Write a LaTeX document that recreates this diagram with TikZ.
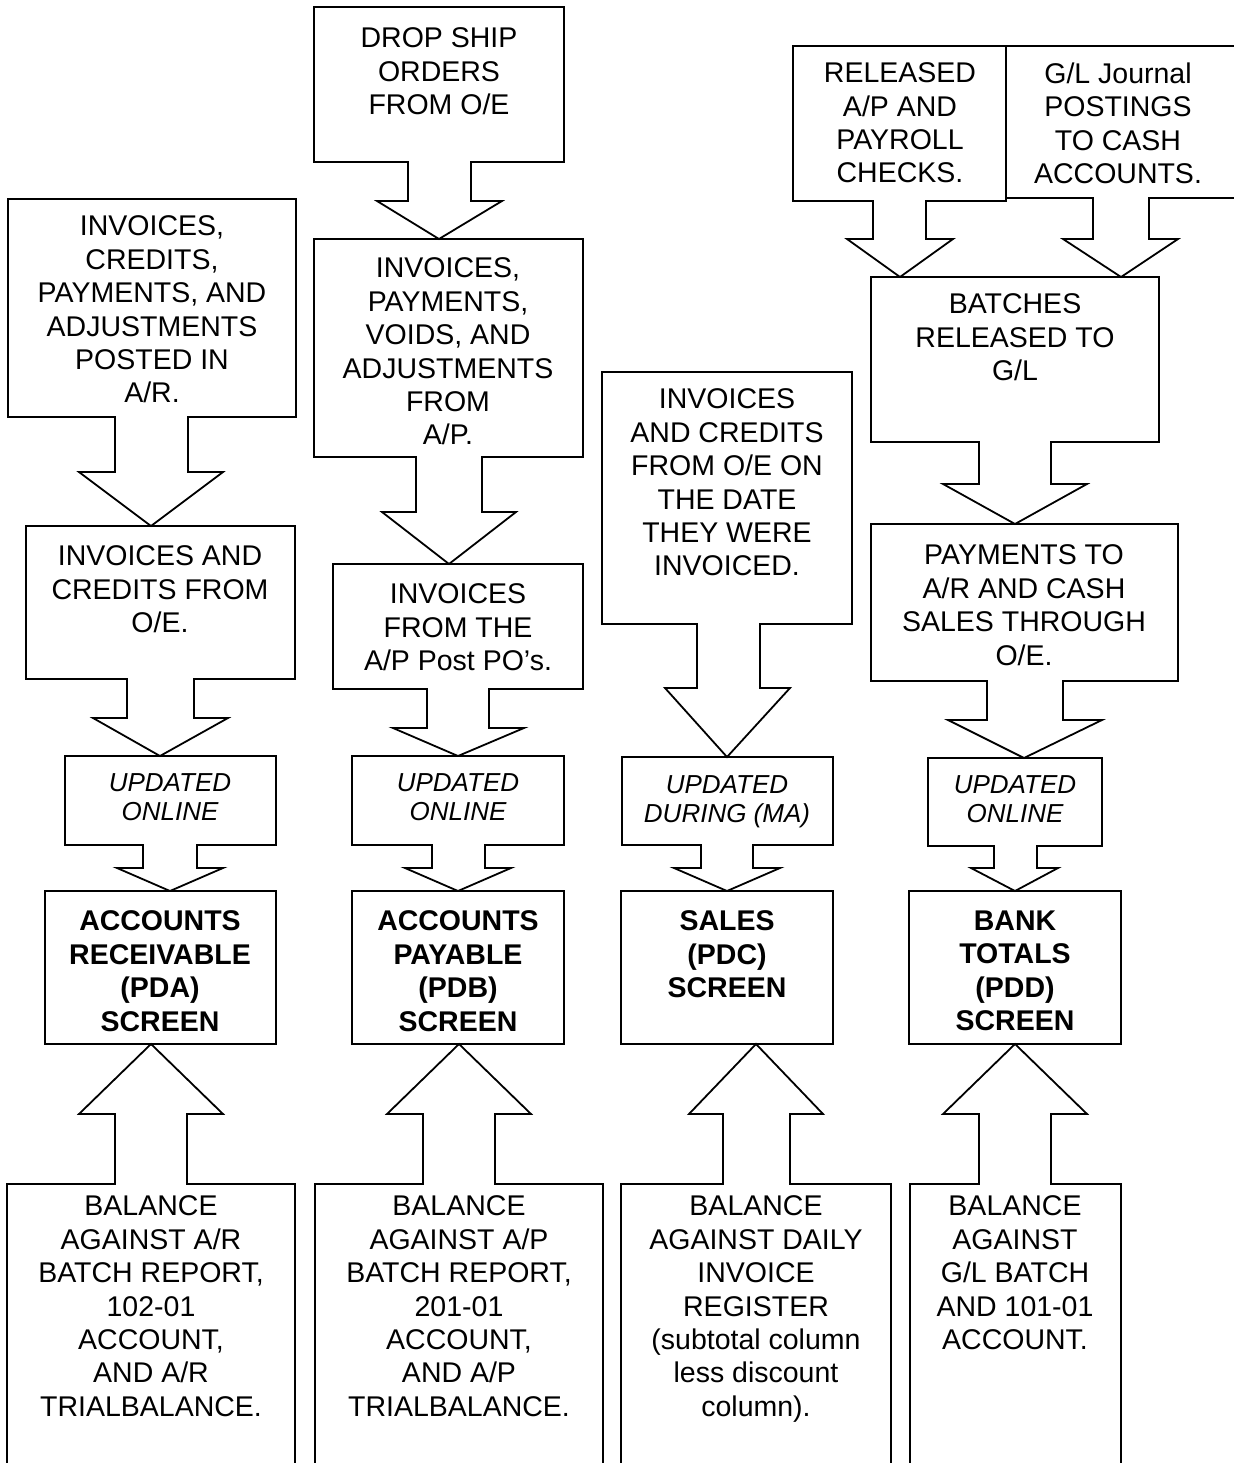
\documentclass[tikz,border=0pt]{standalone}
\usepackage{fontspec}
\setmainfont{Liberation Sans}

\begin{document}
\begin{tikzpicture}[x=1pt,y=-1pt,line width=1.8pt,
  txt/.style={inner sep=0pt,anchor=north,align=center,font=\fontsize{28.5}{33.4}\selectfont},
  upd/.style={txt,font=\fontsize{26}{29}\selectfont\itshape},
  scr/.style={txt,font=\fontsize{28.5}{33.4}\selectfont\bfseries}]
\useasboundingbox (0,0) rectangle (1233,1463);
\draw (8,199) -- (296,199) -- (296,417) -- (188,417) -- (188,472) -- (223,472) -- (151,526) -- (79,472) -- (115,472) -- (115,417) -- (8,417) -- cycle;
\draw (26,526) -- (295,526) -- (295,679) -- (194,679) -- (194,718) -- (228,718) -- (160,756) -- (93,718) -- (127,718) -- (127,679) -- (26,679) -- cycle;
\draw (65,756) -- (276,756) -- (276,845) -- (197,845) -- (197,868) -- (223,868) -- (170,891) -- (117,868) -- (143,868) -- (143,845) -- (65,845) -- cycle;
\draw (45,891) rectangle (276,1044);
\draw (7,1470) -- (7,1184) -- (115,1184) -- (115,1114) -- (79,1114) -- (151,1044) -- (223,1114) -- (187,1114) -- (187,1184) -- (295,1184) -- (295,1470);
\node[txt] (arpost) at (152,215) {INVOICES,\\CREDITS,\\PAYMENTS, AND\\ADJUSTMENTS\\POSTED IN\\A/R.};
\node[txt] (aroe) at (160,545) {INVOICES AND\\CREDITS FROM\\O/E.};
\node[upd] (arupd) at (170,773) {UPDATED\\ONLINE};
\node[scr] (arscr) at (160,910) {ACCOUNTS\\RECEIVABLE\\(PDA)\\SCREEN};
\node[txt] (arbal) at (151,1195) {BALANCE\\AGAINST A/R\\BATCH REPORT,\\102-01\\ACCOUNT,\\AND A/R\\TRIALBALANCE.};
\draw (314,7) -- (564,7) -- (564,162) -- (471,162) -- (471,201) -- (502,201) -- (439,239) -- (377,201) -- (408,201) -- (408,162) -- (314,162) -- cycle;
\draw (314,239) -- (583,239) -- (583,457) -- (482,457) -- (482,512) -- (516,512) -- (449,564) -- (382,512) -- (416,512) -- (416,457) -- (314,457) -- cycle;
\draw (333,564) -- (583,564) -- (583,689) -- (489,689) -- (489,728) -- (524,728) -- (458,756) -- (393,728) -- (427,728) -- (427,689) -- (333,689) -- cycle;
\draw (352,756) -- (564,756) -- (564,845) -- (485,845) -- (485,868) -- (511,868) -- (458,891) -- (405,868) -- (432,868) -- (432,845) -- (352,845) -- cycle;
\draw (352,891) rectangle (564,1044);
\draw (315,1470) -- (315,1184) -- (423,1184) -- (423,1114) -- (387,1114) -- (459,1044) -- (531,1114) -- (495,1114) -- (495,1184) -- (603,1184) -- (603,1470);
\node[txt] (apdrop) at (439,27) {DROP SHIP\\ORDERS\\FROM O/E};
\node[txt] (appost) at (448,257) {INVOICES,\\PAYMENTS,\\VOIDS, AND\\ADJUSTMENTS\\FROM\\A/P.};
\node[txt] (appo) at (458,583) {INVOICES\\FROM THE\\A/P Post PO’s.};
\node[upd] (apupd) at (458,773) {UPDATED\\ONLINE};
\node[scr] (apscr) at (458,910) {ACCOUNTS\\PAYABLE\\(PDB)\\SCREEN};
\node[txt] (apbal) at (459,1195) {BALANCE\\AGAINST A/P\\BATCH REPORT,\\201-01\\ACCOUNT,\\AND A/P\\TRIALBALANCE.};
\draw (602,372) -- (852,372) -- (852,624) -- (760,624) -- (760,688) -- (790,688) -- (727,757) -- (665,688) -- (697,688) -- (697,624) -- (602,624) -- cycle;
\draw (622,757) -- (833,757) -- (833,845) -- (753,845) -- (753,868) -- (780,868) -- (727,891) -- (674,868) -- (701,868) -- (701,845) -- (622,845) -- cycle;
\draw (621,891) rectangle (833,1044);
\draw (621,1470) -- (621,1184) -- (723,1184) -- (723,1114) -- (689,1114) -- (756,1044) -- (823,1114) -- (790,1114) -- (790,1184) -- (891,1184) -- (891,1470);
\node[txt] (soe) at (727,388) {INVOICES\\AND CREDITS\\FROM O/E ON\\THE DATE\\THEY WERE\\INVOICED.};
\node[upd] (supd) at (727,775) {UPDATED\\DURING (MA)};
\node[scr] (sscr) at (727,910) {SALES\\(PDC)\\SCREEN};
\node[txt] (sbal) at (756,1195) {BALANCE\\AGAINST DAILY\\INVOICE\\REGISTER\\(subtotal column\\less discount\\column).};
\draw (793,46) -- (1006,46) -- (1006,201) -- (926,201) -- (926,239) -- (953,239) -- (900,277) -- (847,239) -- (873,239) -- (873,201) -- (793,201) -- cycle;
\draw (1240,46) -- (1006,46) -- (1006,198) -- (1093,198) -- (1093,239) -- (1063,239) -- (1121,277) -- (1178,239) -- (1149,239) -- (1149,198) -- (1240,198);
\draw (871,277) -- (1159,277) -- (1159,442) -- (1051,442) -- (1051,484) -- (1087,484) -- (1015,524) -- (943,484) -- (979,484) -- (979,442) -- (871,442) -- cycle;
\draw (871,524) -- (1178,524) -- (1178,681) -- (1063,681) -- (1063,720) -- (1102,720) -- (1024,758) -- (948,720) -- (987,720) -- (987,681) -- (871,681) -- cycle;
\draw (928,758) -- (1102,758) -- (1102,846) -- (1037,846) -- (1037,868) -- (1058,868) -- (1015,891) -- (971,868) -- (994,868) -- (994,846) -- (928,846) -- cycle;
\draw (909,891) rectangle (1121,1044);
\draw (910,1470) -- (910,1184) -- (979,1184) -- (979,1114) -- (943,1114) -- (1015,1044) -- (1087,1114) -- (1051,1114) -- (1051,1184) -- (1121,1184) -- (1121,1470);
\node[txt] (bkchk) at (900,62) {RELEASED\\A/P AND\\PAYROLL\\CHECKS.};
\node[txt] (bkgl) at (1118,62) {G/L Journal\\POSTINGS\\TO CASH\\ACCOUNTS.};
\node[txt] (bkbatch) at (1015,293) {BATCHES\\RELEASED TO\\G/L};
\node[txt] (bkpay) at (1024,544) {PAYMENTS TO\\A/R AND CASH\\SALES THROUGH\\O/E.};
\node[upd] (bkupd) at (1015,775) {UPDATED\\ONLINE};
\node[scr] (bkscr) at (1015,910) {BANK\\TOTALS\\(PDD)\\SCREEN};
\node[txt] (bkbal) at (1015,1195) {BALANCE\\AGAINST\\G/L BATCH\\AND 101-01\\ACCOUNT.};
\end{tikzpicture}
\end{document}
